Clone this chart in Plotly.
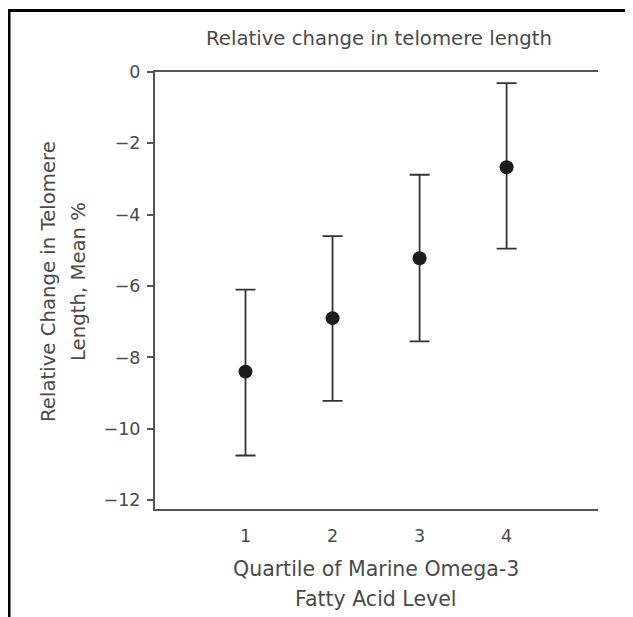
import plotly.graph_objects as go

# Data
quartiles = [1, 2, 3, 4]
means = [-8.4, -6.9, -5.22, -2.67]
upper = [-6.1, -4.6, -2.88, -0.31]
lower = [-10.75, -9.22, -7.55, -4.95]
y_ticks = [0, -2, -4, -6, -8, -10, -12]
x_tick_labels = ["1", "2", "3", "4"]

err_plus = [u - m for u, m in zip(upper, means)]
err_minus = [m - l for m, l in zip(means, lower)]

FONT = "DejaVu Sans, Verdana, sans-serif"
GRAY = "#555555"
TEXT = "#4a4a4a"

W, H = 633, 617
L, R, T, B = 147, 590, 64, 501          # plot area in figure pixels
PW, PH = R - L, B - T


def px(xp):
    return (xp - L) / PW


def py(yp):
    return (B - yp) / PH


fig = go.Figure(
    go.Scatter(
        x=quartiles,
        y=means,
        mode="markers",
        marker=dict(size=14, color="#1c1c1c"),
        error_y=dict(
            type="data",
            symmetric=False,
            array=err_plus,
            arrayminus=err_minus,
            color="#333333",
            thickness=1.8,
            width=10,
        ),
        showlegend=False,
    )
)


def label(text, x, y, size, angle=0):
    return dict(
        text=text, textangle=angle, xref="paper", yref="paper",
        x=px(x), y=py(y), xanchor="center", yanchor="middle",
        showarrow=False, font=dict(size=size, color=TEXT, family=FONT),
    )


fig.update_layout(
    width=W,
    height=H,
    margin=dict(l=L, r=W - R, t=T, b=H - B, pad=0),
    paper_bgcolor="white",
    plot_bgcolor="white",
    font=dict(family=FONT, color=GRAY),
    xaxis=dict(
        range=[-0.04, 5.05],
        tickvals=quartiles,
        ticktext=x_tick_labels,
        showline=True,
        linecolor=GRAY,
        linewidth=2,
        mirror=True,
        ticks="",
        ticklabelstandoff=10,
        showgrid=False,
        zeroline=False,
        tickfont=dict(size=17.5, color=TEXT),
    ),
    yaxis=dict(
        range=[-12.25, 0],
        tickvals=y_ticks,
        showline=True,
        linecolor=GRAY,
        linewidth=2,
        ticks="outside",
        ticklen=6,
        tickwidth=1.5,
        tickcolor=GRAY,
        ticklabelstandoff=3,
        showgrid=False,
        zeroline=False,
        tickfont=dict(size=17.5, color=TEXT),
    ),
    annotations=[
        label("Relative change in telomere length", 370.5, 30, 19.7),
        label("Relative Change in Telomere", 40, 274, 19.7, -90),
        label("Length, Mean %", 70, 274, 19.7, -90),
        label("Quartile of Marine Omega-3", 368, 561, 20.5),
        label("Fatty Acid Level", 367.5, 591, 20.5),
    ],
    shapes=[
        dict(type="line", xref="paper", yref="paper",
             x0=px(1), x1=px(1), y0=py(1), y1=py(H + 10),
             line=dict(color="black", width=3)),
        dict(type="line", xref="paper", yref="paper",
             x0=px(-0.5), x1=px(W + 10), y0=py(2.5), y1=py(2.5),
             line=dict(color="black", width=3)),
    ],
)

fig.write_html("out.html")
